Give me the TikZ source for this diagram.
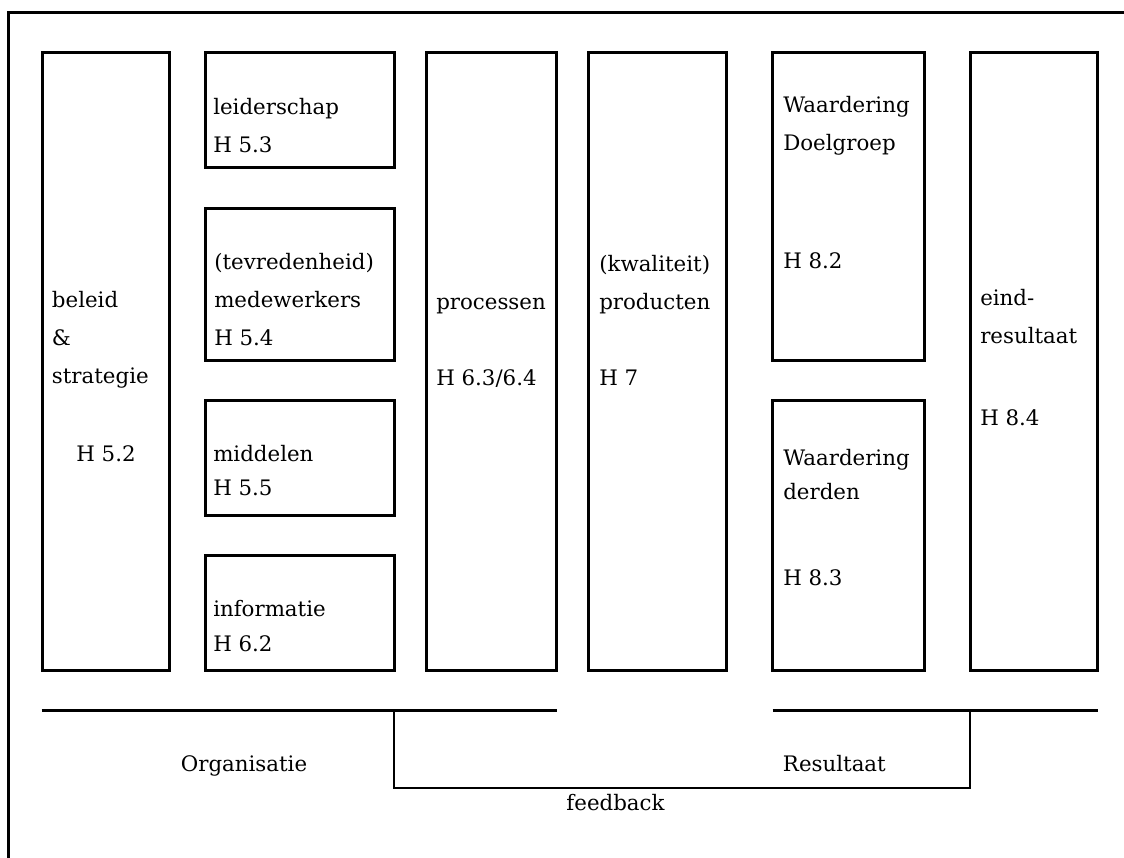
\documentclass[tikz,border=0pt]{standalone}
\usepackage{fontspec}
\setmainfont{DejaVu Serif}
\usetikzlibrary{fit}

\begin{document}
\begin{tikzpicture}[x=0.75pt,y=-0.75pt,
    box/.style={draw, line width=2.25pt, inner sep=0pt},
    txt/.style={font=\fontsize{16pt}{28.5pt}\selectfont, align=left,
                anchor=base west, inner sep=0pt},
    bar/.style={line width=2pt},
    loopline/.style={line width=1.5pt}]
    \useasboundingbox (0,0) rectangle (1124,857);
    % frame
    \coordinate (frame-s) at (8.3,870);
    \coordinate (frame-e) at (1140,12.5);
    \draw[line width=2.25pt, line join=miter] (frame-s) |- (frame-e);
    % organisatie
    \node[box, fit={(42.5,52.7) (169,670.5)}] (beleid) {};
    \node[box, fit={(205,52.7) (394,167.7)}] (leider) {};
    \node[box, fit={(205,208) (394,360)}] (medew) {};
    \node[box, fit={(205,400.7) (394,515)}] (middel) {};
    \node[box, fit={(205,555.7) (394,670.5)}] (inform) {};
    \node[box, fit={(426.5,52.7) (556.5,670.5)}] (proces) {};
    % resultaat
    \node[box, fit={(588,52.7) (726.5,670.5)}] (produc) {};
    \node[box, fit={(772.5,52.7) (924,360)}] (doelgr) {};
    \node[box, fit={(772.5,400.7) (924,670.5)}] (derden) {};
    \node[box, fit={(970,52.7) (1097.5,670.5)}] (eind) {};
    % texts (placed at the baseline of their last line)
    \node[txt] (beleid-t) at (51.7,383.5) {beleid\\ \&\\ strategie};
    \node[txt, anchor=base] (beleid-h) at (106,461.7) {H 5.2};
    \node[txt] (leider-t) at (213,152) {leiderschap\\ H 5.3};
    \node[txt] (medew-t) at (214,345) {(tevredenheid)\\ medewerkers\\ H 5.4};
    \node[txt] (middel-t) at (213,495) {middelen\\[-3pt] H 5.5};
    \node[txt] (inform-t) at (213,651.7) {informatie\\[-2pt] H 6.2};
    \node[txt] (proces-t) at (436,385) {processen\\[28.5pt] H 6.3/6.4};
    \node[txt] (produc-t) at (599,385) {(kwaliteit)\\ producten\\[28.5pt] H 7};
    \node[txt] (doelgr-t) at (783,268) {Waardering\\ Doelgroep\\[60pt] H 8.2};
    \node[txt] (derden-t) at (783,585) {Waardering\\[-3pt] derden\\[36pt] H 8.3};
    \node[txt] (eind-t) at (980,425) {eind-\\ resultaat\\[33pt] H 8.4};
    % bottom lines
    \coordinate (org-w) at (41.7,710.7);
    \coordinate (org-e) at (556.7,710.7);
    \coordinate (res-w) at (772.7,710.7);
    \coordinate (res-e) at (1097.7,710.7);
    \coordinate (fb-w) at (394,710.7);
    \coordinate (fb-e) at (970,710.7);
    \draw[bar] (org-w) -- (org-e);
    \draw[bar] (res-w) -- (res-e);
    \draw[loopline] (fb-w) -- ++(0,77) -| (fb-e);
    \node[txt, anchor=base] (org-t) at (244,771.7) {Organisatie};
    \node[txt] (res-t) at (782.7,771.7) {Resultaat};
    \node[txt, anchor=base] (fb-t) at (615.5,810) {feedback};
\end{tikzpicture}
\end{document}
